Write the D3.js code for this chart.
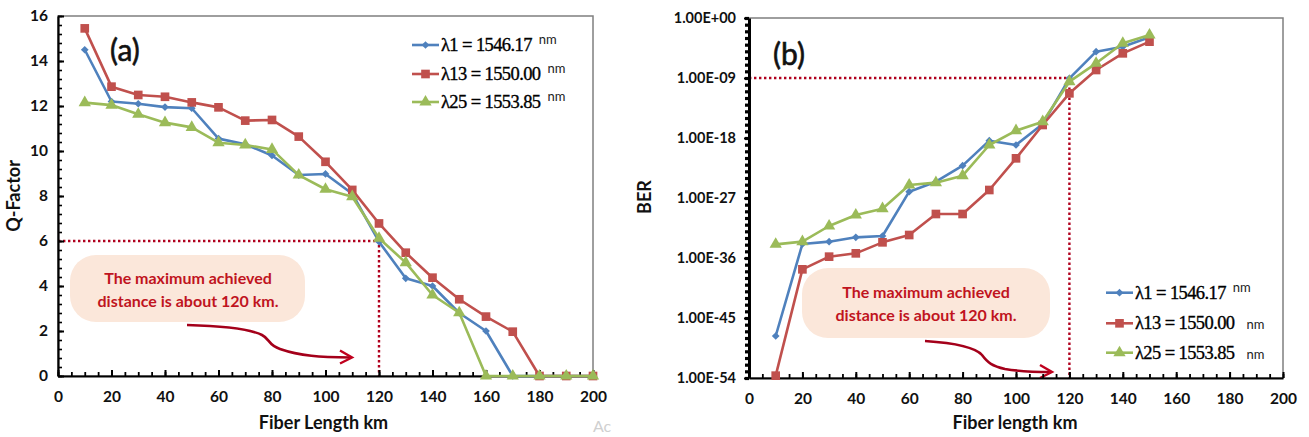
<!DOCTYPE html>
<html><head><meta charset="utf-8">
<script src="https://cdn.jsdelivr.net/npm/d3@7"></script>
<style>
body{margin:0;background:#fff;}
svg{display:block;}
</style></head>
<body><svg id="c" width="1309" height="437"></svg>
<script>
// ---------- data ----------
const distA = [10,20,30,40,50,60,70,80,90,100,110,120,130,140,150,160,170,180,190,200];
const qLambda1  = [14.5,12.2,12.1,11.95,11.9,10.55,10.3,9.8,8.93,8.98,8.1,5.97,4.34,4.0,2.8,2.0,0,0,0,0];
const qLambda13 = [15.45,12.86,12.49,12.41,12.16,11.94,11.35,11.38,10.64,9.52,8.27,6.78,5.48,4.37,3.41,2.64,1.97,0,0,0];
const qLambda25 = [12.15,12.04,11.63,11.26,11.05,10.37,10.27,10.07,8.93,8.3,7.97,6.12,5.04,3.6,2.81,0,0,0,0,0];

const distB = [10,20,30,40,50,60,70,80,90,100,110,120,130,140,150];
// log10(BER)
const berLogLambda1  = [-47.7,-33.9,-33.55,-32.9,-32.7,-26.05,-24.55,-22.15,-18.4,-19.05,-15.9,-9.05,-5.05,-4.3,-2.9];
const berLogLambda13 = [-53.65,-37.7,-35.8,-35.3,-33.65,-32.55,-29.4,-29.4,-25.8,-21.05,-16.05,-11.3,-7.8,-5.3,-3.55];
const berLogLambda25 = [-33.95,-33.55,-31.2,-29.55,-28.6,-25.05,-24.7,-23.65,-19.05,-16.9,-15.55,-9.55,-6.8,-3.8,-2.55];

const xTicks = [0,20,40,60,80,100,120,140,160,180,200];
const qTicks = [0,2,4,6,8,10,12,14,16];
const berTickExps = [0,-9,-18,-27,-36,-45,-54];
const seriesNames = ["\u03bb1 = 1546.17", "\u03bb13 = 1550.00", "\u03bb25 = 1553.85"];
const seriesColors = ["#4f81bd", "#c0504d", "#9bbb59"];
const annotationLines = ["The maximum achieved", "distance is about 120 km."];
const qThreshold = 6, berThresholdExp = -9, maxDistance = 120;

// ---------- setup ----------
const svg = d3.select("#c");
const SANS = "Lato, 'Open Sans', sans-serif";
const SERIF = "'Liberation Serif', 'DejaVu Serif', serif";
const DOT = "#b0001e";

function symbolFor(i){
  if(i===0) return d3.symbol().type(d3.symbolSquare).size(30)();
  if(i===1) return d3.symbol().type(d3.symbolSquare).size(75)();
  return d3.symbol().type(d3.symbolTriangle).size(65)();
}
function markerTransform(i,x,y){ return i===0 ? `translate(${x},${y}) rotate(45)` : `translate(${x},${y})`; }

function drawSeries(g, xs, ys, xScale, yScale, i){
  const pts = xs.map((d,k)=>[xScale(d), yScale(ys[k])]);
  g.append("path").attr("d", d3.line()(pts)).attr("fill","none")
    .attr("stroke", seriesColors[i]).attr("stroke-width",2.6).attr("stroke-linejoin","round");
  g.selectAll(null).data(pts).enter().append("path")
    .attr("d", symbolFor(i)).attr("transform", d=>markerTransform(i,d[0],d[1]))
    .attr("fill", seriesColors[i]);
}

function styleAxis(g){
  g.select(".domain").attr("stroke","#000").attr("stroke-width",2.2);
  g.selectAll(".tick line").attr("stroke","#000").attr("stroke-width",2);
  g.selectAll("text").attr("font-family",SANS).attr("font-weight","bold").attr("font-size","15.5px").attr("fill","#111");
}

function legend(g, x0, ys, supFlags){
  seriesNames.forEach((name,i)=>{
    const y = ys[i];
    g.append("line").attr("x1",x0).attr("x2",x0+27).attr("y1",y).attr("y2",y)
      .attr("stroke",seriesColors[i]).attr("stroke-width",2.6);
    g.append("path").attr("d",symbolFor(i)).attr("transform",markerTransform(i,x0+13.5,y)).attr("fill",seriesColors[i]);
    const t = g.append("text").attr("x",x0+29).attr("y",y+6).attr("font-family",SERIF)
      .attr("font-size","18.5px").attr("letter-spacing","-0.6px").attr("fill","#000")
      .attr("stroke","#000").attr("stroke-width",0.35).text(name);
    const w = t.node().getComputedTextLength();
    g.append("text").attr("x",x0+29+w+(supFlags[i]?7:12)).attr("y", supFlags[i]? y-1 : y+6)
      .attr("font-family",SANS).attr("font-size","13px").attr("fill","#222").text("nm");
  });
}

function annotation(g, x, y, w, h, cx, base1){
  g.append("rect").attr("x",x).attr("y",y).attr("width",w).attr("height",h).attr("rx",26).attr("ry",26)
    .attr("fill","#fbe7da");
  annotationLines.forEach((s,k)=>{
    g.append("text").attr("x",cx).attr("y",base1+k*22.5).attr("text-anchor","middle")
      .attr("font-family",SANS).attr("font-weight","bold").attr("font-size","16px").attr("fill","#c0141e").text(s);
  });
}

function arrow(g, d, tip){
  g.append("path").attr("d",d).attr("fill","none").attr("stroke","#a4001a").attr("stroke-width",2.6);
  g.append("path").attr("d",`M${tip[0]-12},${tip[1]-7} L${tip[0]},${tip[1]} L${tip[0]-12},${tip[1]+6}`)
    .attr("fill","none").attr("stroke","#c0001e").attr("stroke-width",2.4);
}

// ---------- Chart (a) ----------
{
  const L=58, R=593, T=16, B=376;
  const x = d3.scaleLinear().domain([0,200]).range([L,R]);
  const y = d3.scaleLinear().domain([0,16]).range([B,T]);
  const g = svg.append("g");
  g.append("rect").attr("x",L).attr("y",T).attr("width",R-L).attr("height",B-T)
    .attr("fill","none").attr("stroke","#7f7f7f").attr("stroke-width",1.5);

  annotation(g, 70, 255, 235, 67, 188, 284);
  arrow(g, "M187,325 C225,326 250,329 262,335 C270,339 268,345 280,349 C300,356 320,357 351,357.5", [352,357.5]);

  g.append("path").attr("d",`M${x(0)},${y(qThreshold)} H${x(maxDistance)} V${y(0)}`)
    .attr("fill","none").attr("stroke",DOT).attr("stroke-width",2.4).attr("stroke-dasharray","2.4,2.6");

  const gx = g.append("g").attr("transform",`translate(0,${B})`)
    .call(d3.axisBottom(x).tickValues(xTicks).tickSizeInner(-6).tickSizeOuter(0).tickPadding(15));
  styleAxis(gx);
  const gxm = g.append("g").attr("transform",`translate(0,${B})`)
    .call(d3.axisBottom(x).tickValues(d3.range(0,201,5)).tickSize(-4).tickFormat(""));
  gxm.select(".domain").remove(); gxm.selectAll("line").attr("stroke","#000").attr("stroke-width",1.8);
  const gy = g.append("g").attr("transform",`translate(${L},0)`)
    .call(d3.axisLeft(y).tickValues(qTicks).tickSizeInner(-6).tickSizeOuter(0).tickPadding(10));
  styleAxis(gy);
  const gym = g.append("g").attr("transform",`translate(${L},0)`)
    .call(d3.axisLeft(y).tickValues(d3.range(0,16.01,0.4)).tickSize(-4).tickFormat(""));
  gym.select(".domain").remove(); gym.selectAll("line").attr("stroke","#000").attr("stroke-width",1.6);

  [qLambda1,qLambda13,qLambda25].forEach((s,i)=>drawSeries(g, distA, s, x, y, i));

  legend(g, 412, [45,74,102], [true,true,true]);

  g.append("text").attr("x",110).attr("y",61).attr("font-family",SANS).attr("font-size","30px").attr("fill","#111")
    .attr("stroke","#111").attr("stroke-width",0.6).text("(a)");
  g.append("text").attr("x",(L+R)/2-2).attr("y",429).attr("text-anchor","middle").attr("font-family",SANS)
    .attr("font-weight","bold").attr("font-size","18px").attr("fill","#111").text("Fiber Length km");
  g.append("text").attr("transform","translate(20,196) rotate(-90)").attr("text-anchor","middle").attr("font-family",SANS)
    .attr("font-weight","bold").attr("font-size","18px").attr("fill","#111").text("Q-Factor");
  g.append("text").attr("x",593).attr("y",432).attr("font-family",SANS).attr("font-size","16px").attr("fill","#d0d0d0").text("Ac");
}

// ---------- Chart (b) ----------
{
  const L=749, R=1283, T=18, B=378;
  const x = d3.scaleLinear().domain([0,200]).range([L,R]);
  const y = d3.scaleLog().domain([1e-54,1]).range([B,T]);
  const g = svg.append("g");
  g.append("rect").attr("x",L).attr("y",T).attr("width",R-L).attr("height",B-T)
    .attr("fill","none").attr("stroke","#7f7f7f").attr("stroke-width",1.5);

  annotation(g, 802, 268, 248, 70, 926, 298);
  arrow(g, "M925,341 C955,343 975,347 982,355 C988,363 992,366 1005,369 C1020,371.5 1035,372 1051,372", [1052,372]);

  g.append("path").attr("d",`M${x(0)},${y(Math.pow(10,berThresholdExp))} H${x(maxDistance)} V${B}`)
    .attr("fill","none").attr("stroke",DOT).attr("stroke-width",2.4).attr("stroke-dasharray","2.4,2.6");

  const fmt = e => "1.00E" + (e<0?"-":"+") + String(Math.abs(e)).padStart(2,"0");
  const gx = g.append("g").attr("transform",`translate(0,${B})`)
    .call(d3.axisBottom(x).tickValues(xTicks).tickSizeInner(-6).tickSizeOuter(0).tickPadding(15));
  styleAxis(gx);
  const gxm = g.append("g").attr("transform",`translate(0,${B})`)
    .call(d3.axisBottom(x).tickValues(d3.range(0,201,5)).tickSize(-4).tickFormat(""));
  gxm.select(".domain").remove(); gxm.selectAll("line").attr("stroke","#000").attr("stroke-width",1.8);
  const gy = g.append("g").attr("transform",`translate(${L},0)`)
    .call(d3.axisLeft(y).tickValues(berTickExps.map(e=>Math.pow(10,e))).tickSizeInner(5).tickSizeOuter(0).tickPadding(8)
      .tickFormat((d,i)=>fmt(berTickExps[i])));
  styleAxis(gy);
  gy.select(".domain").attr("stroke-width",3);
  gy.selectAll("text").attr("font-size","14.5px");
  const gym = g.append("g").attr("transform",`translate(${L},0)`)
    .call(d3.axisLeft(y).tickValues(d3.range(-54,1,1).map(e=>Math.pow(10,e))).tickSize(4).tickFormat(""));
  gym.select(".domain").remove(); gym.selectAll("line").attr("stroke","#000").attr("stroke-width",3.2);

  [berLogLambda1,berLogLambda13,berLogLambda25].forEach((s,i)=>
    drawSeries(g, distB, s.map(e=>Math.pow(10,e)), x, y, i));

  legend(g, 1106, [292.7,323.3,352.7], [true,false,false]);

  g.append("text").attr("x",773).attr("y",65).attr("font-family",SANS).attr("font-size","30px").attr("fill","#111")
    .attr("stroke","#111").attr("stroke-width",0.6).text("(b)");
  g.append("text").attr("x",1015).attr("y",429).attr("text-anchor","middle").attr("font-family",SANS)
    .attr("font-weight","bold").attr("font-size","18px").attr("fill","#111").text("Fiber length km");
  g.append("text").attr("transform","translate(651,197) rotate(-90)").attr("text-anchor","middle").attr("font-family",SANS)
    .attr("font-weight","bold").attr("font-size","18px").attr("fill","#111").text("BER");
}
</script></body></html>
